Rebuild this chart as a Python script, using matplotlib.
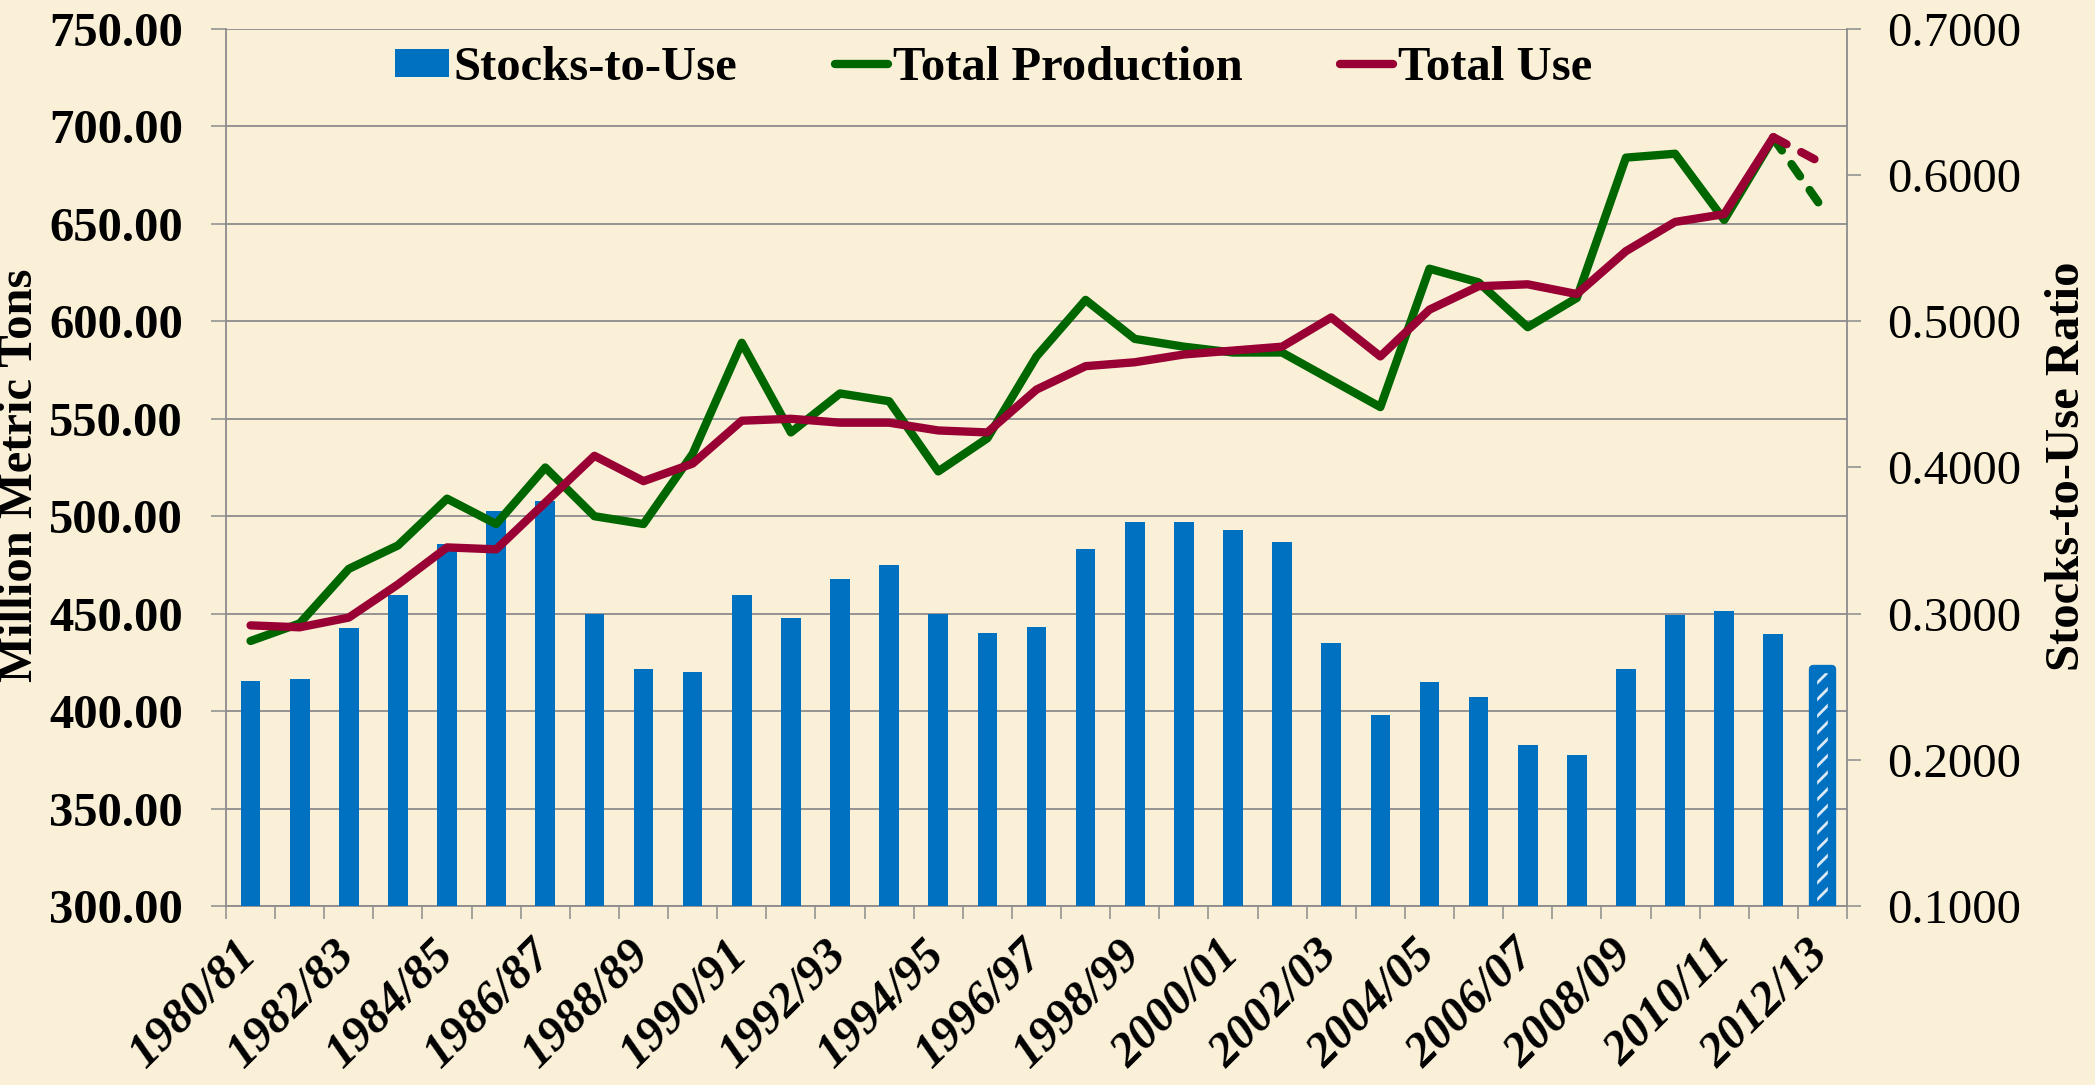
import matplotlib
matplotlib.use("Agg")
import matplotlib.pyplot as plt
import numpy as np
from matplotlib.lines import Line2D
from matplotlib.patches import Patch

# ---------------- data ----------------
years = ["1980/81", "1981/82", "1982/83", "1983/84", "1984/85", "1985/86", "1986/87",
         "1987/88", "1988/89", "1989/90", "1990/91", "1991/92", "1992/93", "1993/94",
         "1994/95", "1995/96", "1996/97", "1997/98", "1998/99", "1999/00", "2000/01",
         "2001/02", "2002/03", "2003/04", "2004/05", "2005/06", "2006/07", "2007/08",
         "2008/09", "2009/10", "2010/11", "2011/12", "2012/13"]

stocks_to_use = [0.254, 0.255, 0.290, 0.313, 0.348, 0.370, 0.377, 0.300, 0.262, 0.260,
                 0.313, 0.297, 0.324, 0.333, 0.300, 0.287, 0.291, 0.344, 0.363, 0.363,
                 0.357, 0.349, 0.280, 0.231, 0.253, 0.243, 0.210, 0.203, 0.262, 0.299,
                 0.302, 0.286, 0.262]

total_production = [436, 445, 473, 485, 509, 496, 525, 500, 496, 532,
                    589, 543, 563, 559, 523, 540, 582, 611, 591, 587,
                    584, 584, 570, 556, 627, 620, 597, 612, 684, 686,
                    652, 694, 658]

total_use = [444, 443, 448, 465, 484, 483, 507, 531, 518, 527,
             549, 550, 548, 548, 544, 543, 565, 577, 579, 583,
             585, 587, 602, 582, 606, 618, 619, 614, 636, 651,
             655, 694.5, 681]

left_ticks = [300, 350, 400, 450, 500, 550, 600, 650, 700, 750]
right_ticks = [0.1, 0.2, 0.3, 0.4, 0.5, 0.6, 0.7]

# ---------------- style ----------------
BG = "#FAF0D8"
BLUE = "#0070C0"
GREEN = "#006600"
RED = "#990033"
GRID = "#8C8C8C"
FONT = "Liberation Serif"
FS = 35

plt.rcParams["font.family"] = [FONT, "DejaVu Serif"]
plt.rcParams["hatch.linewidth"] = 2.0

W, H = 2095, 1085
fig = plt.figure(figsize=(W / 100, H / 100), dpi=100)
fig.patch.set_facecolor(BG)

L, R, T, B = 226, 1847, 29, 906
rect = [L / W, 1 - B / H, (R - L) / W, (B - T) / H]

ax = fig.add_axes(rect)
ax.set_facecolor(BG)
ax.set_zorder(1)
ax_bar = ax.twinx()
ax_bar.set_zorder(2)
ax_bar.patch.set_visible(False)
ax_line = ax.twinx()
ax_line.set_zorder(3)
ax_line.patch.set_visible(False)

x = np.arange(len(years))

# grid + left axis
ax.set_xlim(-0.5, len(years) - 0.5)
ax.set_ylim(300, 750)
ax.set_yticks(left_ticks)
ax.set_yticklabels([f"{v:.2f}" for v in left_ticks], fontsize=FS, fontweight="bold")
ax.grid(axis="y", color=GRID, linewidth=1.3)
ax.tick_params(axis="y", which="major", direction="out", length=11, width=1.1,
               color=GRID, pad=20)
for s in ["top", "right"]:
    ax.spines[s].set_visible(False)
for s in ["left", "bottom"]:
    ax.spines[s].set_color(GRID)
    ax.spines[s].set_linewidth(1.3)

ax.set_xticks(np.arange(-0.5, len(years) + 0.5, 1.0))
ax.set_xticklabels([])
ax.tick_params(axis="x", which="major", direction="out", length=9.5, width=1.1, color=GRID)
ax.set_xticks(x[::2], minor=True)
ax.set_xticklabels(years[::2], minor=True, fontsize=FS, fontweight="bold",
                   fontstyle="italic", rotation=45, ha="right", va="center",
                   rotation_mode="anchor")
ax.tick_params(axis="x", which="minor", length=0, pad=30)

# bars (right axis)
ax_bar.set_ylim(0.1, 0.7)
bars = ax_bar.bar(x, stocks_to_use, width=0.4, color=BLUE, linewidth=0)
last = bars[-1]
last.set_hatch("//")
last.set_edgecolor("#DCEAF7")
last.set_linewidth(0)
ax_bar.bar(x[-1], stocks_to_use[-1] - 0.1, bottom=0.1, width=0.4, fill=False,
           edgecolor=BLUE, linewidth=6, joinstyle="round")
ax_bar.set_yticks(right_ticks)
ax_bar.set_yticklabels([f"{v:.4f}" for v in right_ticks], fontsize=FS)
ax_bar.tick_params(axis="y", direction="out", length=10, width=1.1, color=GRID, pad=19)
for s in ["top", "left", "bottom"]:
    ax_bar.spines[s].set_visible(False)
ax_bar.spines["right"].set_color(GRID)
ax_bar.spines["right"].set_linewidth(1.3)

# lines (left scale)
ax_line.set_ylim(300, 750)
ax_line.set_yticks([])
for s in ax_line.spines.values():
    s.set_visible(False)
lw = 6
ax_line.plot(x[:-1], total_production[:-1], color=GREEN, lw=lw,
             solid_joinstyle="round", solid_capstyle="round")
ax_line.plot(x[-2:], total_production[-2:], color=GREEN, lw=lw,
             dashes=(1.8, 2.0), dash_capstyle="round")
ax_line.plot(x[:-1], total_use[:-1], color=RED, lw=lw,
             solid_joinstyle="round", solid_capstyle="round")
ax_line.plot(x[-2:], total_use[-2:], color=RED, lw=lw,
             dashes=(1.8, 2.0), dash_capstyle="round")

# axis titles
fig.text(20 / W, 1 - 475 / H, "Million Metric Tons", rotation=90, ha="center",
         va="center", fontsize=FS, fontweight="bold")
fig.text(2067 / W, 1 - 466 / H, "Stocks-to-Use Ratio", rotation=90, ha="center",
         va="center", fontsize=FS, fontweight="bold")

# legend
handles = [Patch(facecolor=BLUE, edgecolor="none"),
           Line2D([], [], color=GREEN, lw=lw, solid_capstyle="round"),
           Line2D([], [], color=RED, lw=lw, solid_capstyle="round")]
labels = ["Stocks-to-Use", "Total Production", "Total Use"]
fig.legend(handles, labels, loc="center", bbox_to_anchor=(994 / W, 1 - 68 / H),
           ncol=3, frameon=False, prop={"family": FONT, "weight": "bold", "size": 35},
           handlelength=1.1, handletextpad=0.1, columnspacing=2.0, handleheight=0.5)

fig.savefig("out.png", dpi=100, facecolor=BG)
